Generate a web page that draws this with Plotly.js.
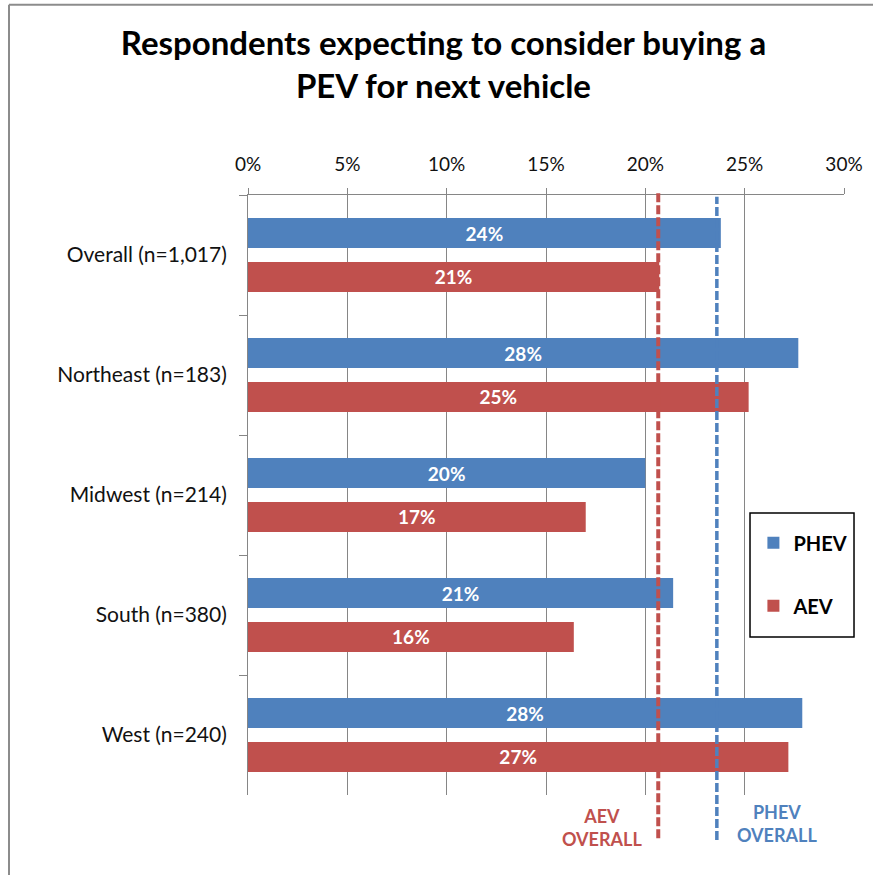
<!DOCTYPE html>
<html>
<head>
<meta charset="utf-8">
<script src="https://cdn.plot.ly/plotly-3.0.1.min.js"></script>
<style>
  html, body { margin: 0; padding: 0; background: #ffffff; }
  #chart { width: 873px; height: 875px; }
</style>
</head>
<body>
<div id="chart"></div>
<script>
// ---- Data ----
const regions = ["Overall (n=1,017)", "Northeast (n=183)", "Midwest (n=214)", "South (n=380)", "West (n=240)"];
const phevShare = [0.238, 0.277, 0.200, 0.214, 0.279];
const aevShare  = [0.207, 0.252, 0.170, 0.164, 0.272];
const phevOverall = 0.236;
const aevOverall  = 0.2065;
const xTickVals = [0, 0.05, 0.10, 0.15, 0.20, 0.25, 0.30];

const BLUE = "#4F81BD";
const RED = "#C0504D";
const GRID = "#868686";
const FONT = "Lato, 'Open Sans', sans-serif";

const traces = [
  {
    type: "bar", orientation: "h", name: "PHEV",
    y: regions, x: phevShare,
    marker: { color: BLUE },
    texttemplate: "%{x:.0%}", textposition: "inside", insidetextanchor: "middle",
    textangle: 0,
    textfont: { family: FONT, size: 19, color: "#ffffff", weight: "bold" },
    legendgroup: "a", hoverinfo: "skip"
  },
  {
    type: "bar", orientation: "h", name: "AEV",
    y: regions, x: aevShare,
    marker: { color: RED },
    texttemplate: "%{x:.0%}", textposition: "inside", insidetextanchor: "middle",
    textangle: 0,
    textfont: { family: FONT, size: 19, color: "#ffffff", weight: "bold" },
    legendgroup: "b", hoverinfo: "skip"
  }
];

const layout = {
  width: 873, height: 875,
  margin: { l: 248, r: 29, t: 195, b: 80 },
  paper_bgcolor: "#ffffff", plot_bgcolor: "#ffffff",
  font: { family: FONT, color: "#111111" },
  title: {
    text: "Respondents expecting to consider buying a<br>PEV for next vehicle",
    font: { family: FONT, size: 33, color: "#000000", weight: "bold" },
    x: 0.508, xref: "container", xanchor: "center",
    y: 0.937, yref: "container", yanchor: "middle"
  },
  barmode: "group",
  bargap: 0.267,
  bargroupgap: 0.318,
  showlegend: true,
  legend: {
    x: 0.848, xanchor: "left", y: 0.453, yanchor: "top",
    bgcolor: "rgba(0,0,0,0)", borderwidth: 0,
    font: { family: FONT, size: 20, color: "#000000", weight: "bold" },
    tracegroupgap: 34, traceorder: "grouped"
  },
  xaxis: {
    side: "top", range: [0, 0.30],
    tickvals: xTickVals, tickformat: ".0%",
    showgrid: true, gridcolor: GRID, gridwidth: 1,
    zeroline: false,
    showline: true, linecolor: GRID, linewidth: 1,
    ticks: "outside", ticklen: 6, tickcolor: GRID,
    tickfont: { family: FONT, size: 19, color: "#111111" },
    ticklabelstandoff: 9,
    fixedrange: true
  },
  yaxis: {
    type: "category", autorange: "reversed",
    showgrid: false, zeroline: false,
    showline: true, linecolor: GRID, linewidth: 1,
    ticks: "outside", ticklen: 8, tickcolor: GRID, tickson: "boundaries",
    tickfont: { family: FONT, size: 21, color: "#111111" },
    ticklabelstandoff: 16,
    fixedrange: true
  },
  shapes: [
    { type: "line", xref: "x", yref: "paper", x0: aevOverall, x1: aevOverall, y0: -0.072, y1: 1.003,
      line: { color: RED, width: 4, dash: "9px,3px" } },
    { type: "line", xref: "x", yref: "paper", x0: phevOverall, x1: phevOverall, y0: -0.075, y1: 0.997,
      line: { color: BLUE, width: 3.5, dash: "9px,3px" } },
    { type: "rect", xref: "paper", yref: "paper", x0: 0.8423, x1: 1.0168, y0: 0.2633, y1: 0.47,
      fillcolor: "#ffffff", line: { color: "#000000", width: 1.5 }, layer: "above" },
    { type: "line", xref: "paper", yref: "paper", x0: -0.401, x1: 1.06, y0: 1.317, y1: 1.317,
      line: { color: "#8c8c8c", width: 2 } },
    { type: "line", xref: "paper", yref: "paper", x0: -0.401, x1: -0.401, y0: 1.317, y1: -0.2,
      line: { color: "#8c8c8c", width: 2 } }
  ],
  annotations: [
    { xref: "x", yref: "paper", x: 0.1780, y: -0.054, xanchor: "center", yanchor: "middle",
      text: "AEV<br>OVERALL", showarrow: false,
      font: { family: FONT, size: 18, color: RED, weight: "bold" } },
    { xref: "x", yref: "paper", x: 0.2665, y: -0.0475, xanchor: "center", yanchor: "middle",
      text: "PHEV<br>OVERALL", showarrow: false,
      font: { family: FONT, size: 18, color: BLUE, weight: "bold" } }
  ]
};

Plotly.newPlot("chart", traces, layout, { displayModeBar: false, staticPlot: true });
</script>
</body>
</html>
